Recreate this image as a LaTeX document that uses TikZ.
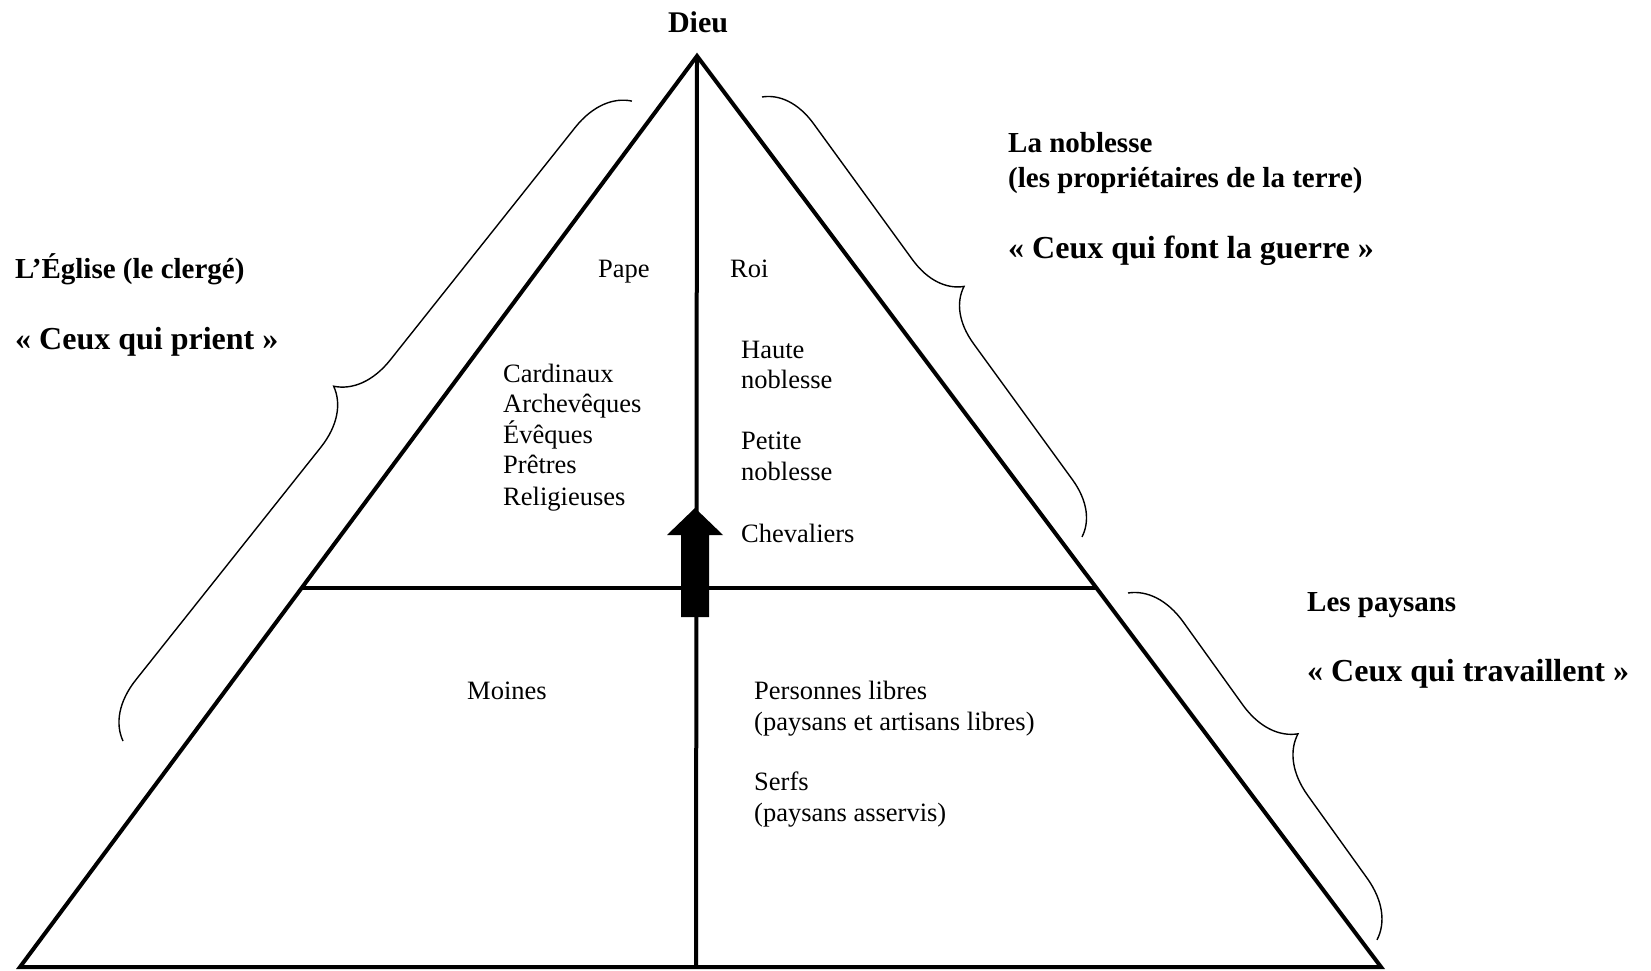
\documentclass[tikz,border=0pt]{standalone}
\usepackage{fontspec}
\setmainfont{Liberation Serif}
\usetikzlibrary{decorations.pathreplacing}
\begin{document}
\begin{tikzpicture}[x=1pt,y=-1pt,
  side/.style={line width=4pt, line join=miter},
  curly/.style={line width=1.4pt, decorate, decoration={brace, amplitude=#1}},
  txt/.style={anchor=base west, inner sep=0pt, font=\fontsize{26.5}{30}\selectfont},
  head/.style={anchor=base west, inner sep=0pt, font=\fontsize{29}{34}\selectfont\bfseries},
  motto/.style={anchor=base west, inner sep=0pt, font=\fontsize{32}{38}\selectfont\bfseries}]
\useasboundingbox (0,0) rectangle (1651,971);

% pyramid
\coordinate (apex) at (697,56);
\coordinate (bl) at (20,967);
\coordinate (br) at (1381,967);
\coordinate (bm) at (696,967);
\coordinate (ml) at (302,588);
\coordinate (mr) at (1096,588);
\draw[side] (apex) -- (bl) -- (br) -- cycle;
\draw[side] (ml) -- (mr);
\draw[side] (apex) -- (bm);

% upward block arrow
\fill (681,617) -- (681,535) -- (667,535) -- (695,508) -- (723,535)
      -- (709,535) -- (709,617) -- cycle;

% braces
\coordinate (cb1) at (123,741);
\coordinate (cb2) at (632,101);
\coordinate (nb1) at (762,97);
\coordinate (nb2) at (1082,537);
\coordinate (pb1) at (1128,593);
\coordinate (pb2) at (1377,940);
\draw[curly=56pt] (cb1) -- (cb2);
\draw[curly=52pt] (nb1) -- (nb2);
\draw[curly=56pt] (pb1) -- (pb2);

% labels
\node[anchor=base, inner sep=0pt, font=\fontsize{30}{36}\selectfont\bfseries] (dieu) at (698,33) {Dieu};

\node[head]  (eglise) at (15,278) {L’Église (le clergé)};
\node[motto] (prient) at (15,349) {«~Ceux qui prient~»};

\node[head]  (noblesse) at (1008,153) {La noblesse};
\node[head]  (proprio)  at (1008,187) {(les propriétaires de la terre)};
\node[motto] (guerre)   at (1008,258) {«~Ceux qui font la guerre~»};

\node[head]  (paysans)  at (1307,611) {Les paysans};
\node[motto] (travail)  at (1307,681) {«~Ceux qui travaillent~»};

\node[txt] (pape) at (598,277) {Pape};
\node[txt] (roi)  at (730,277) {Roi};

\node[txt] (card)  at (503,382) {Cardinaux};
\node[txt] (arch)  at (503,412) {Archevêques};
\node[txt] (evq)   at (503,443) {Évêques};
\node[txt] (pret)  at (503,473) {Prêtres};
\node[txt] (relig) at (503,505) {Religieuses};

\node[txt] (haute)  at (741,358) {Haute};
\node[txt] (hnob)   at (741,388) {noblesse};
\node[txt] (petite) at (741,449) {Petite};
\node[txt] (pnob)   at (741,480) {noblesse};
\node[txt] (chev)   at (741,542) {Chevaliers};

\node[txt] (moines) at (467,699) {Moines};

\node[txt] (libres) at (754,699) {Personnes libres};
\node[txt] (libx)   at (754,730) {(paysans et artisans libres)};
\node[txt] (serfs)  at (754,790) {Serfs};
\node[txt] (serfx)  at (754,821) {(paysans asservis)};
\end{tikzpicture}
\end{document}
